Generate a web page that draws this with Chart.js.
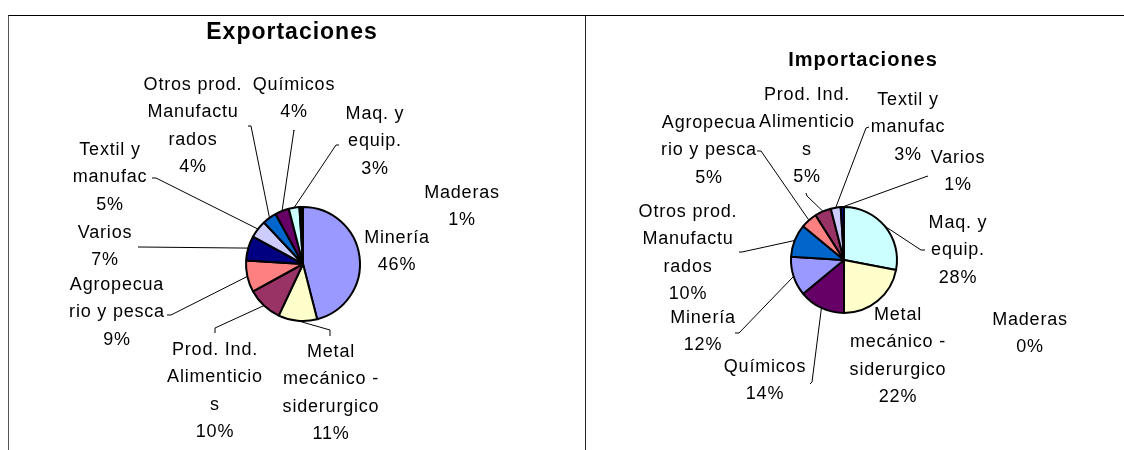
<!DOCTYPE html>
<html>
<head>
<meta charset="utf-8">
<script src="https://cdn.jsdelivr.net/npm/chart.js@4"></script>
<style>
  body { margin: 0; background: #fff; }
  .frame { position: absolute; top: 15px; height: 450px; border-top: 1px solid #000; }
  #frameExp { left: 8px; width: 576px; border-left: 1px solid #555; border-right: 1px solid #222; }
  #frameImp { left: 585px; width: 560px; }
  canvas { position: absolute; top: 0; }
  #expChart { left: 0; }
  #impChart { left: 585px; }
</style>
</head>
<body>
<div class="frame" id="frameExp"></div>
<div class="frame" id="frameImp"></div>
<canvas id="expChart" width="585" height="450"></canvas>
<canvas id="impChart" width="539" height="450"></canvas>
<script>
// data (percent)
const expCategories = ["Minería", "Metal mecánico - siderurgico", "Prod. Ind. Alimenticios", "Agropecuario y pesca", "Varios", "Textil y manufac", "Otros prod. Manufacturados", "Químicos", "Maq. y equip.", "Maderas"];
const expValues = [46, 11, 10, 9, 7, 5, 4, 4, 3, 1];

const impCategories = ["Maq. y equip.", "Metal mecánico - siderurgico", "Químicos", "Minería", "Otros prod. Manufacturados", "Agropecuario y pesca", "Prod. Ind. Alimenticios", "Textil y manufac", "Varios", "Maderas"];
const impValues = [28, 22, 14, 12, 10, 5, 5, 3, 1, 0];

// same colour per category in both charts
const categoryColors = {
  "Minería": "#9999FF",
  "Metal mecánico - siderurgico": "#FFFFCC",
  "Prod. Ind. Alimenticios": "#993366",
  "Agropecuario y pesca": "#FF8080",
  "Varios": "#000080",
  "Textil y manufac": "#CCCCFF",
  "Otros prod. Manufacturados": "#0066CC",
  "Químicos": "#660066",
  "Maq. y equip.": "#CCFFFF",
  "Maderas": "#000000"
};

// how the labels wrap in the original
const labelLines = {
  "Minería": ["Minería"],
  "Metal mecánico - siderurgico": ["Metal", "mecánico -", "siderurgico"],
  "Prod. Ind. Alimenticios": ["Prod. Ind.", "Alimenticio", "s"],
  "Agropecuario y pesca": ["Agropecua", "rio y pesca"],
  "Varios": ["Varios"],
  "Textil y manufac": ["Textil y", "manufac"],
  "Otros prod. Manufacturados": ["Otros prod.", "Manufactu", "rados"],
  "Químicos": ["Químicos"],
  "Maq. y equip.": ["Maq. y", "equip."],
  "Maderas": ["Maderas"]
};

// label placement (page coords, centre x / first line y) and leader ticks
const expLabelPos = [[397, 238], [331, 352], [215, 350], [117, 285], [105, 233], [110, 150], [193, 85], [294, 85], [375, 114], [462, 193]];
const expLeaders = [null, [330, 336, 330, 330], [215, 333, 215, 328], [167, 315, 171, 315], [138, 247, 140, 247], [152, 178, 156, 178], [248, 126, 251, 126], [294, 131, 294, 130], [339, 145, 336, 145], null];

const impLabelPos = [[958, 223], [898, 315], [765, 367], [703, 318], [688, 212], [709, 123], [807, 95], [908, 100], [958, 158], [1030, 320]];
const impLeaders = [[925, 250, 921, 250], null, [810, 384, 812, 382], [735, 333, 739, 333], [739, 252, 742, 252], [757, 151, 761, 151], [806, 193, 807, 196], [869, 127, 866, 128], [928, 176, 925, 177], null];

const FONT = '18px "Liberation Sans", Arial, sans-serif';
const LINE_H = 27.5;

function makeLabelPlugin(title, titlePos, titleSize, categories, values, labelPos, leaders, offsetX) {
  return {
    id: "pieLabels",
    afterDraw(chart) {
      const ctx = chart.ctx;
      const arcs = chart.getDatasetMeta(0).data;
      ctx.save();
      ctx.fillStyle = "#000";
      ctx.textAlign = "center";
      ctx.textBaseline = "middle";

      // title
      ctx.font = "bold " + titleSize + 'px "Liberation Sans", Arial, sans-serif';
      ctx.letterSpacing = "1px";
      ctx.fillText(title, titlePos[0] - offsetX, titlePos[1]);

      // leader lines
      ctx.strokeStyle = "#000";
      ctx.lineWidth = 1;
      leaders.forEach((ld, i) => {
        if (!ld || !arcs[i]) return;
        const a = arcs[i];
        const mid = (a.startAngle + a.endAngle) / 2;
        const px = a.x + Math.cos(mid) * a.outerRadius;
        const py = a.y + Math.sin(mid) * a.outerRadius;
        ctx.beginPath();
        ctx.moveTo(ld[0] - offsetX, ld[1]);
        ctx.lineTo(ld[2] - offsetX, ld[3]);
        ctx.lineTo(px, py);
        ctx.stroke();
      });

      // labels
      ctx.font = FONT;
      ctx.letterSpacing = "0.8px";
      categories.forEach((cat, i) => {
        const lines = labelLines[cat].concat([values[i] + "%"]);
        const [cx, cy] = labelPos[i];
        lines.forEach((t, k) => {
          ctx.fillText(t, cx - offsetX, cy + k * LINE_H);
        });
      });
      ctx.restore();
    }
  };
}

function createPie(canvasId, categories, values, radius, padding, title, titlePos, titleSize, labelPos, leaders, offsetX) {
  const config = {
    type: "pie",
    data: {
      labels: categories,
      datasets: [
        {
          data: values,
          backgroundColor: categories.map((c) => categoryColors[c]),
          borderColor: "#000",
          borderWidth: 2,
          radius: radius,
        },
      ],
    },
    options: {
      responsive: false,
      animation: false,
      layout: { padding: padding },
      plugins: {
        legend: { display: false },
        tooltip: { enabled: false },
      },
    },
    plugins: [makeLabelPlugin(title, titlePos, titleSize, categories, values, labelPos, leaders, offsetX)],
  };
  return new Chart(document.getElementById(canvasId), config);
}

// left: pie centre (303, 264) r 57 ; right: centre (844, 260) r 53
createPie("expChart", expCategories, expValues, 57,
  { left: 243, right: 222, top: 204, bottom: 126 },
  "Exportaciones", [292, 33], 23, expLabelPos, expLeaders, 0);

createPie("impChart", impCategories, impValues, 53,
  { left: 199, right: 220, top: 200, bottom: 130 },
  "Importaciones", [863, 60], 20, impLabelPos, impLeaders, 585);
</script>
</body>
</html>
